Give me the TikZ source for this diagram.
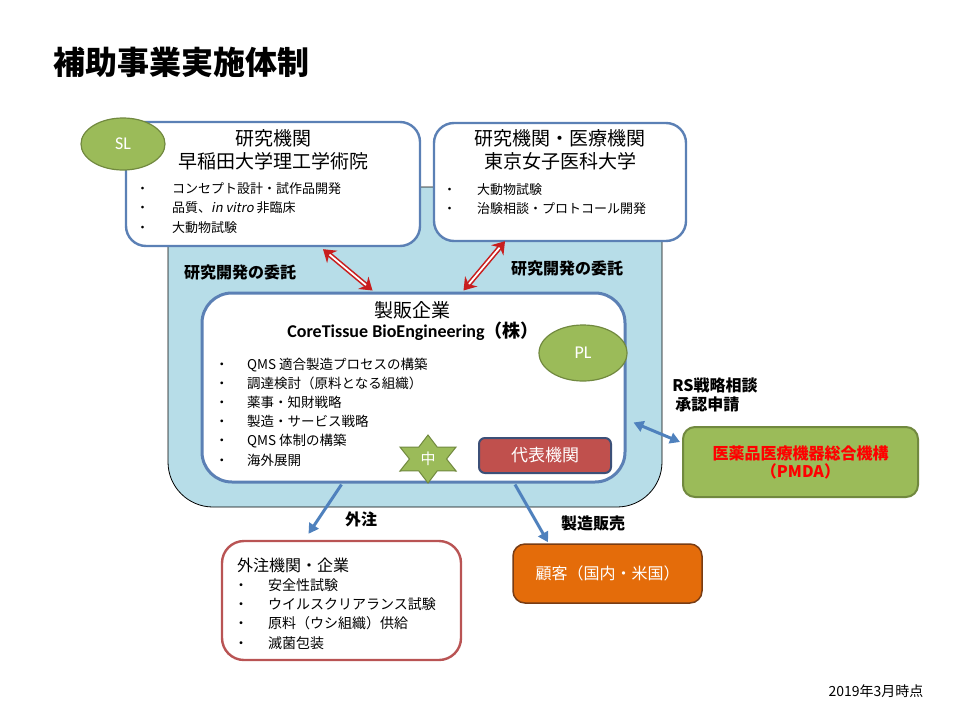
\documentclass[tikz,border=0pt]{standalone}
\usepackage{fontspec}
\setmainfont{Noto Sans CJK JP}
\newfontfamily\carlito{Carlito}
\newfontfamily\jpslant{Noto Sans CJK JP}[FakeSlant=0.2]
\usetikzlibrary{arrows.meta,shapes.geometric}

\definecolor{skyfill}{RGB}{183,221,232}
\definecolor{frameblue}{RGB}{91,128,181}
\definecolor{leaf}{RGB}{155,187,89}
\definecolor{leafdark}{RGB}{113,137,63}
\definecolor{brick}{RGB}{192,80,77}
\definecolor{navyline}{RGB}{60,80,120}
\definecolor{rust}{RGB}{228,108,10}
\definecolor{rustdark}{RGB}{120,60,20}
\definecolor{rose}{RGB}{185,84,84}
\definecolor{arrowred}{RGB}{200,30,30}
\definecolor{linkblue}{RGB}{79,129,189}

\newcommand\itm[2][34pt]{\makebox[#1][l]{・}#2}

\begin{document}
\begin{tikzpicture}
        [x=1pt, y=-1pt,
         panel/.style={draw=frameblue, line width=2.4pt, fill=white, rounded corners=20pt},
         oval/.style={ellipse, draw=leafdark, line width=1.2pt, fill=leaf, text=white, font=\carlito\fontsize{18}{18}\selectfont},
         head/.style={align=center, font=\fontsize{19}{23}\selectfont},
         items/.style={anchor=west, align=left, inner sep=0pt, font=\fontsize{13}{19.5}\selectfont},
         tag/.style={font=\bfseries\fontsize{16}{19}\selectfont},
         redlink/.style={draw=arrowred, double=white, double distance=1.8pt, line width=1.6pt, {Stealth[length=12pt,width=16pt]}-{Stealth[length=12pt,width=16pt]}},
         bluelink/.style={draw=linkblue, line width=3pt, -{Triangle[length=10pt,width=11pt]}}]

        \useasboundingbox (0,0) rectangle (960,720);

        % title
        \node[anchor=west, font=\bfseries\fontsize{32}{32}\selectfont] (title) at (50,62) {補助事業実施体制};

        % light blue backdrop
        \node[draw=black, line width=0.8pt, fill=skyfill, rounded corners=45pt, minimum width=494pt, minimum height=320pt] (backdrop) at (415,347) {};

        % research institutes
        \node[panel, minimum width=294pt, minimum height=124pt] (lab1) at (273,184) {};
        \node[oval, minimum width=84pt, minimum height=52pt] (sl) at (123,144) {SL};
        \node[head] (lab1head) at (273,150) {研究機関\\早稲田大学理工学術院};
        \node[items] (lab1items) at (136,208) {\itm[36pt]{コンセプト設計・試作品開発}\\\itm[36pt]{品質、{\jpslant in vitro} 非臨床}\\\itm[36pt]{大動物試験}};

        \node[panel, minimum width=252pt, minimum height=118pt] (lab2) at (560,182) {};
        \node[head] (lab2head) at (560,150) {研究機関・医療機関\\東京女子医科大学};
        \node[items] (lab2items) at (443,199) {\itm{大動物試験}\\\itm{治験相談・プロトコール開発}};

        % manufacturer
        \node[panel, rounded corners=30pt, line width=3pt, minimum width=423pt, minimum height=189pt] (maker) at (413.5,387.5) {};
        \node[font=\fontsize{19}{19}\selectfont] (makerhead) at (412,310) {製販企業};
        \node[font=\bfseries\fontsize{18}{18}\selectfont] (makername) at (413,331) {{\carlito CoreTissue BioEngineering}（株）};
        \node[oval, minimum width=88pt, minimum height=56pt] (pl) at (583,353) {PL};
        \node[items, font=\fontsize{13.5}{19.2}\selectfont] (makeritems) at (215,412) {\itm[32pt]{QMS 適合製造プロセスの構築}\\\itm[32pt]{調達検討（原料となる組織）}\\\itm[32pt]{薬事・知財戦略}\\\itm[32pt]{製造・サービス戦略}\\\itm[32pt]{QMS 体制の構築}\\\itm[32pt]{海外展開}};
        \node[star, star points=6, star point ratio=1.75, minimum size=48pt, inner sep=0pt, fill=leaf, draw=leafdark, line width=1pt, xscale=1.35, transform shape] (mark) at (428,459) {};
        \node[text=white, font=\fontsize{15}{15}\selectfont] (marktext) at (mark) {中};
        \node[draw=navyline, line width=2pt, fill=brick, rounded corners=6pt, minimum width=132pt, minimum height=35pt, text=white, font=\fontsize{17}{17}\selectfont] (rep) at (545,455.5) {代表機関};

        % PMDA
        \node[draw=leafdark, line width=2pt, fill=leaf, rounded corners=12pt, minimum width=235pt, minimum height=70pt, align=center, text=red, font=\bfseries\fontsize{16}{18}\selectfont] (pmda) at (800.5,462) {医薬品医療機器総合機構\\（PMDA）};

        % outsourcing and customers
        \node[draw=rose, line width=2.4pt, fill=white, rounded corners=22pt, minimum width=239pt, minimum height=119pt] (outs) at (341.5,600.5) {};
        \node[anchor=west, inner sep=0pt, font=\fontsize{16}{16}\selectfont] (outshead) at (237,565) {外注機関・企業};
        \node[items, font=\fontsize{14}{19.3}\selectfont] (outsitems) at (234,614) {\itm{安全性試験}\\\itm{ウイルスクリアランス試験}\\\itm{原料（ウシ組織）供給}\\\itm{滅菌包装}};
        \node[draw=rustdark, line width=1.5pt, fill=rust, rounded corners=12pt, minimum width=189pt, minimum height=59pt, text=white, font=\fontsize{16}{16}\selectfont] (cust) at (607.5,573.5) {顧客（国内・米国）};

        % labels
        \node[tag] (lab1tag) at (240,272) {研究開発の委託};
        \node[tag] (lab2tag) at (567,268) {研究開発の委託};
        \node[tag, align=left] (rstag) at (715,395) {RS戦略相談\\\hspace{3pt}承認申請};
        \node[tag] (outstag) at (361,519) {外注};
        \node[tag] (custtag) at (593,523) {製造販売};
        \node[font=\fontsize{14}{14}\selectfont] (date) at (876,691) {2019年3月時点};

        % connectors
        \draw[redlink] ([shift={(50,2)}]lab1.south) -- ([shift={(-41,-1)}]maker.north);
        \draw[redlink] ([shift={(-55,-1)}]lab2.south) -- ([shift={(50,-1)}]maker.north);
        \draw[bluelink, {Triangle[length=10pt,width=11pt]}-{Triangle[length=10pt,width=11pt]}] ([shift={(7,35)}]maker.east) -- ([shift={(-2,-20)}]pmda.west);
        \draw[bluelink] ([shift={(-72,1)}]maker.south) -- ([shift={(-33,-6)}]outs.north);
        \draw[bluelink] ([shift={(101.5,1)}]maker.south) -- ([shift={(-59.5,-1)}]cust.north);
      \end{tikzpicture}
\end{document}
